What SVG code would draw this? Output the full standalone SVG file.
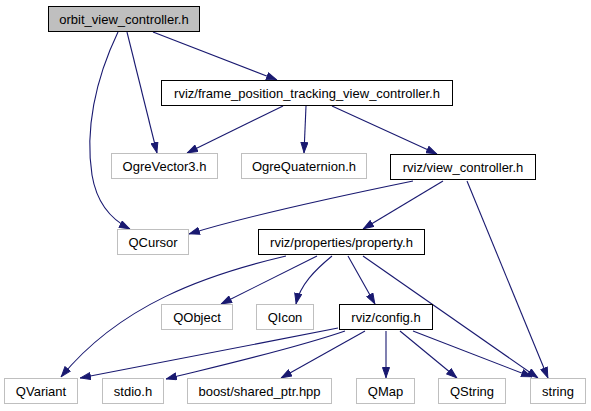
<svg xmlns="http://www.w3.org/2000/svg" width="591" height="411" viewBox="0 0 591 411">
<style>
.box{fill:#fff;stroke:#000;stroke-width:1}
.ext{fill:#fff;stroke:#bfbfbf;stroke-width:1}
.root{fill:#bfbfbf;stroke:#000;stroke-width:1}
text{font-family:"Liberation Sans",Arial,sans-serif;font-size:13px;text-anchor:middle;fill:#000}
.e{fill:none;stroke:#191970;stroke-width:1.1;marker-end:url(#a)}
</style>
<defs>
<marker id="a" viewBox="0 0 11 8" refX="11" refY="4" markerWidth="11" markerHeight="8" markerUnits="userSpaceOnUse" orient="auto">
<path d="M0.5,0.5 L10.5,4 L0.5,7.5 z" fill="#191970" stroke="#191970"/>
</marker>
</defs>
<rect width="591" height="411" fill="#fff"/>
<g id="edges">
<path class="e" d="M153,32 L277,80"/>
<path class="e" d="M127,32 L157,153"/>
<path class="e" d="M118,32 C95,80 85,130 92,175 C97,205 112,220 130,229"/>
<path class="e" d="M283,106 L187,153"/>
<path class="e" d="M306,106 L304,153"/>
<path class="e" d="M332,106 L437,154"/>
<path class="e" d="M413,181 C340,196 250,215 189,234"/>
<path class="e" d="M443,181 L363,229"/>
<path class="e" d="M467,181 L548,378"/>
<path class="e" d="M286,256 C205,275 120,305 61,377"/>
<path class="e" d="M317,256 L221,304"/>
<path class="e" d="M332,256 C315,270 300,285 296,304"/>
<path class="e" d="M348,256 L375,304"/>
<path class="e" d="M363,256 L538,378"/>
<path class="e" d="M338,328 C250,345 150,365 80,378"/>
<path class="e" d="M345,331 C290,350 210,368 166,379"/>
<path class="e" d="M365,331 L281,378"/>
<path class="e" d="M386,331 L386,378"/>
<path class="e" d="M400,331 L457,378"/>
<path class="e" d="M413,331 L532,377"/>
</g>
<g id="n_orbit"><rect class="root" x="48.5" y="6.5" width="151" height="25"/><text x="124" y="24">orbit_view_controller.h</text></g>
<g id="n_frame"><rect class="box" x="161.5" y="80.5" width="291" height="25"/><text x="307" y="98">rviz/frame_position_tracking_view_controller.h</text></g>
<g id="n_vec3"><rect class="ext" x="111.5" y="153.5" width="106" height="25"/><text x="164.5" y="171">OgreVector3.h</text></g>
<g id="n_quat"><rect class="ext" x="241.5" y="153.5" width="125" height="25"/><text x="304" y="171">OgreQuaternion.h</text></g>
<g id="n_vc"><rect class="box" x="390.5" y="154.5" width="145" height="25"/><text x="463" y="172">rviz/view_controller.h</text></g>
<g id="n_qcursor"><rect class="ext" x="117.5" y="229.5" width="71" height="25"/><text x="153" y="247">QCursor</text></g>
<g id="n_prop"><rect class="box" x="258.5" y="229.5" width="166" height="25"/><text x="341.5" y="247">rviz/properties/property.h</text></g>
<g id="n_qobject"><rect class="ext" x="161.5" y="304.5" width="71" height="25"/><text x="197" y="322">QObject</text></g>
<g id="n_qicon"><rect class="ext" x="256.5" y="304.5" width="57" height="25"/><text x="285" y="322">QIcon</text></g>
<g id="n_config"><rect class="box" x="339.5" y="304.5" width="93" height="25"/><text x="386" y="322">rviz/config.h</text></g>
<g id="n_qvariant"><rect class="ext" x="4.5" y="378.5" width="73" height="25"/><text x="41" y="396">QVariant</text></g>
<g id="n_stdio"><rect class="ext" x="102.5" y="378.5" width="61" height="25"/><text x="133" y="396">stdio.h</text></g>
<g id="n_boost"><rect class="ext" x="187.5" y="378.5" width="144" height="25"/><text x="259.5" y="396">boost/shared_ptr.hpp</text></g>
<g id="n_qmap"><rect class="ext" x="356.5" y="378.5" width="58" height="25"/><text x="385.5" y="396">QMap</text></g>
<g id="n_qstring"><rect class="ext" x="438.5" y="378.5" width="67" height="25"/><text x="472" y="396">QString</text></g>
<g id="n_string"><rect class="ext" x="530.5" y="378.5" width="55" height="25"/><text x="558" y="396">string</text></g>
</svg>
